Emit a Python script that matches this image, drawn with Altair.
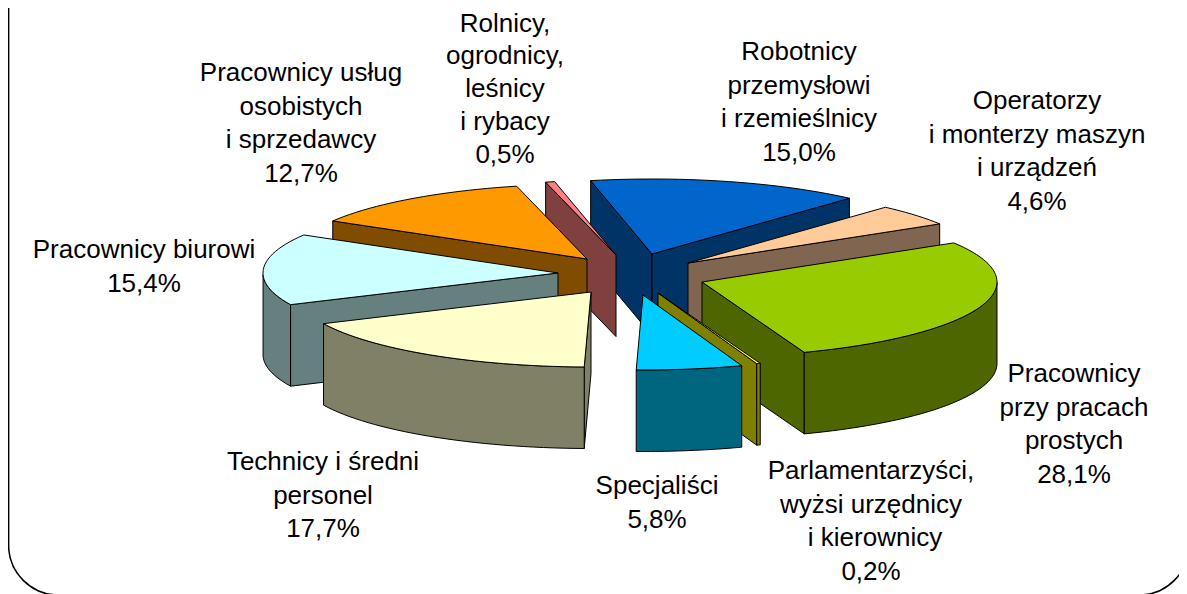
import math
import altair as alt

# ---- chart values ----
names = [
    ["Robotnicy", "przemysłowi", "i rzemieślnicy"],
    ["Operatorzy", "i monterzy maszyn", "i urządzeń"],
    ["Pracownicy", "przy pracach", "prostych"],
    ["Parlamentarzyści,", "wyżsi urzędnicy", "i kierownicy"],
    ["Specjaliści"],
    ["Technicy i średni", "personel"],
    ["Pracownicy biurowi"],
    ["Pracownicy usług", "osobistych", "i sprzedawcy"],
    ["Rolnicy,", "ogrodnicy,", "leśnicy", "i rybacy"],
]
shares = [15.0, 4.6, 28.1, 0.2, 5.8, 17.7, 15.4, 12.7, 0.5]

# ---- styles ----
top_colors = ["#0066CC", "#FFCC99", "#99CC00", "#FFFF00", "#00CCFF",
              "#FFFFCC", "#CCFFFF", "#FF9900", "#FF8080"]
wall_colors = ["#003366", "#806650", "#4D6600", "#808000", "#006680",
               "#808066", "#668080", "#804D00", "#804040"]

# ---- layout (page pixels) ----
apex = [(652, 254), (688, 263), (702, 282), (658, 293), (643, 295),
        (591, 292), (558, 273), (587, 259), (616, 255)]
label_x = [[799, 799, 799, 799], [1037, 1037, 1037, 1037], [1074, 1074, 1074, 1074],
           [871, 871, 875, 871], [657, 657], [323, 323, 323], [144, 144],
           [301, 301, 301, 301], [505, 505, 505, 505, 505]]
label_y0 = [60, 109, 382, 479, 494, 470, 258, 81, 31.5]
line_gaps = [33.7, 33.7, 33.7, 33.7, 33.7, 33.7, 33.7, 33.7, 32.9]
paint_order = [0, 8, 1, 7, 6, 2, 5, 3, 4]
RX, RY, DEPTH, START = 295, 75, 81.5, -12.0
W, H = 1171, 586
OFF = 8


def rim(i, a):
    r = math.radians(a)
    return (apex[i][0] + RX * math.sin(r), apex[i][1] - RY * math.cos(r))


def poly(points, fill):
    ring = [[x - OFF, y - OFF] for x, y in points]
    ring.append(ring[0])
    return {"type": "Feature", "properties": {"fill": fill},
            "geometry": {"type": "Polygon", "coordinates": [ring]}}


def radial_wall(i, a, fill):
    p = rim(i, a)
    q = apex[i]
    return poly([q, p, (p[0], p[1] + DEPTH), (q[0], q[1] + DEPTH)], fill)


bounds = []
acc = START
for s in shares:
    bounds.append((acc, acc + s * 3.6))
    acc += s * 3.6

features = []
for i in paint_order:
    a0, a1 = bounds[i]
    n = max(2, int((a1 - a0) / 2) + 1)
    angles = [a0 + (a1 - a0) * k / n for k in range(n + 1)]
    # radial faces that look towards the viewer
    if math.cos(math.radians(a0 - 90)) < 0:
        features.append(radial_wall(i, a0, wall_colors[i]))
    if math.cos(math.radians(a1 + 90)) < 0:
        features.append(radial_wall(i, a1, wall_colors[i]))
    # outer wall, front half of the ellipse only
    front = [a for a in angles if 90 <= a <= 270]
    if len(front) >= 2:
        upper = [rim(i, a) for a in front]
        lower = [(x, y + DEPTH) for x, y in reversed(upper)]
        features.append(poly(upper + lower, wall_colors[i]))
    # top face
    features.append(poly([apex[i]] + [rim(i, a) for a in angles], top_colors[i]))

rows = []
for i, lines in enumerate(names):
    pct = f"{shares[i]:.1f}".replace(".", ",") + "%"
    for k, line in enumerate(lines + [pct]):
        rows.append({"t": line, "x": label_x[i][k] - OFF,
                     "y": label_y0[i] + k * line_gaps[i] - OFF})

frame = alt.Chart(alt.Data(values=[{"a": 1}])).mark_rect(
    fill="white", stroke="black", strokeWidth=1.6, cornerRadius=50
).encode(x=alt.value(0.6), x2=alt.value(1181), y=alt.value(-80), y2=alt.value(587))

pie = alt.Chart(alt.Data(values=features)).mark_geoshape(
    stroke="black", strokeWidth=1, strokeJoin="round"
).encode(fill=alt.Fill("properties.fill:N", scale=None)).project(
    type="identity", scale=1, translate=[0, 0]
)

labels = alt.Chart(alt.Data(values=rows)).mark_text(
    font="Liberation Sans", fontSize=26, color="black", align="center", baseline="alphabetic"
).encode(
    x=alt.X("x:Q", scale=None, axis=None),
    y=alt.Y("y:Q", scale=None, axis=None),
    text="t:N",
)

chart = alt.layer(frame, pie, labels).properties(
    width=W, height=H, padding=0, background="white",
    autosize=alt.AutoSizeParams(type="none")
).configure_view(stroke=None)

chart.save("out.html", embed_options={"renderer": "svg", "actions": False})
